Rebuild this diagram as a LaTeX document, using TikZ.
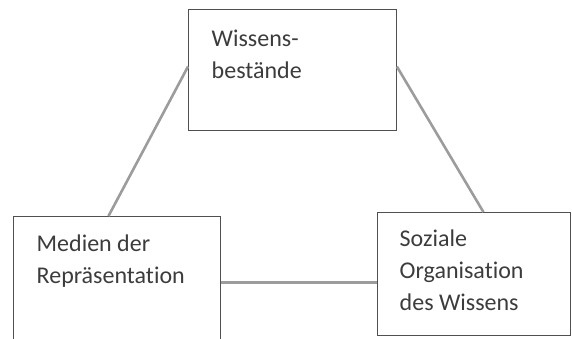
\documentclass[tikz,border=0pt]{standalone}
\usepackage{fontspec}
\setmainfont{Carlito}[RawFeature=-liga]
\usepackage{tikz}
\usetikzlibrary{positioning}
\definecolor{rahmengrau}{HTML}{505050}
\definecolor{liniengrau}{HTML}{9C9C9C}
\definecolor{textgrau}{HTML}{3C3C3C}
\tikzset{kasten/.style={draw=rahmengrau, line width=0.9pt, inner sep=0pt, anchor=south west},
  beschriftung/.style={anchor=north west, inner sep=0pt, align=left, text=textgrau,
    font=\fontsize{24}{32}\selectfont},
  verbindung/.style={draw=liniengrau, line width=2.6pt}}

\begin{document}
\begin{tikzpicture}

\useasboundingbox (0,0) rectangle (572pt,338pt);
\clip (0,0) rectangle (572pt,338pt);

\node[kasten, minimum width=208pt, minimum height=121pt] (wissen) at (188pt,207pt) {};
\node[kasten, minimum width=207pt, minimum height=126pt] (medien) at (13pt,-5pt) {};
\node[kasten, minimum width=193pt, minimum height=123pt] (sozial) at (377pt,2pt) {};

\node[beschriftung] (wissentext) at ([xshift=23.5pt, yshift=-14.6pt]wissen.north west) {\strut Wissens-\\bestände};
\node[beschriftung] (medientext) at ([xshift=23.5pt, yshift=-12.6pt]medien.north west) {\strut Medien der\\Repräsentation};
\node[beschriftung] (sozialtext) at ([xshift=22.5pt, yshift=-11.6pt]sozial.north west) {\strut Soziale\\Organisation\\des Wissens};

\draw[verbindung] ([xshift=-8.5pt]medien.north) -- ([yshift=3.5pt]wissen.west);
\draw[verbindung] ([yshift=3.5pt]wissen.east) -- ([xshift=9.5pt]sozial.north);
\draw[verbindung] ([yshift=-3pt]medien.east) -- ([yshift=-3pt]medien.east -| sozial.west);

\end{tikzpicture}
\end{document}
